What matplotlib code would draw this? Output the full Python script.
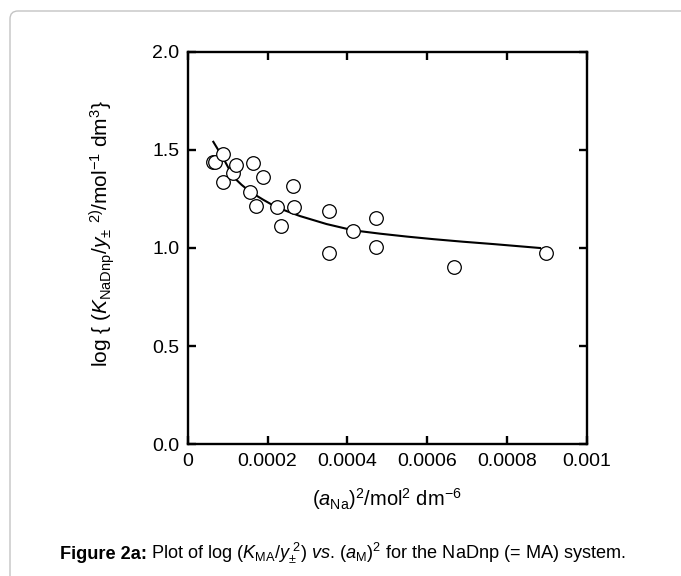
import matplotlib
matplotlib.use("Agg")
import matplotlib.pyplot as plt
from matplotlib.patches import FancyBboxPatch
from matplotlib.transforms import IdentityTransform

plt.rcParams['font.family'] = ['Liberation Sans', 'DejaVu Sans']
plt.rcParams['mathtext.fontset'] = 'custom'
plt.rcParams['mathtext.rm'] = 'Liberation Sans'
plt.rcParams['mathtext.it'] = 'Liberation Sans:italic'
plt.rcParams['mathtext.bf'] = 'Liberation Sans:bold'

# measured points, (a_Na)^2 vs log(K/y^2)
a_sq = [0.0000642, 0.0000684, 0.0000892, 0.0000877, 0.000113, 0.000121,
        0.000163, 0.000156, 0.000188, 0.000171, 0.000223, 0.000234,
        0.000265, 0.000266, 0.000353, 0.000353, 0.000415, 0.000472,
        0.000472, 0.000667, 0.000897]
log_k = [1.438, 1.437, 1.479, 1.338, 1.380, 1.424,
         1.431, 1.287, 1.360, 1.214, 1.209, 1.114,
         1.317, 1.207, 1.190, 0.976, 1.088, 1.151,
         1.007, 0.905, 0.976]

# fitted curve
fit_x = [0.0000642, 0.0000892, 0.000114, 0.000135, 0.000156, 0.000190,
         0.000223, 0.000281, 0.000348, 0.000415, 0.000482, 0.000550,
         0.000616, 0.000690, 0.000766, 0.000883]
fit_y = [1.541, 1.457, 1.363, 1.322, 1.287, 1.245,
         1.207, 1.163, 1.122, 1.090, 1.073, 1.058,
         1.045, 1.032, 1.020, 1.000]

xticks = [0, 0.0002, 0.0004, 0.0006, 0.0008, 0.001]
xtick_labels = ['0', '0.0002', '0.0004', '0.0006', '0.0008', '0.001']
yticks = [0.0, 0.5, 1.0, 1.5, 2.0]
ytick_labels = ['0.0', '0.5', '1.0', '1.5', '2.0']

W, H = 681, 576
fig = plt.figure(figsize=(W / 100, H / 100), dpi=100)

# rounded frame around the figure
frame = FancyBboxPatch((10, -30), 720, H - 11 + 30,
                       boxstyle="round,pad=0,rounding_size=8",
                       transform=IdentityTransform(), fc='none',
                       ec='#c4c4c4', lw=1.0)
fig.add_artist(frame)

ax = fig.add_axes([187.7 / W, 1 - 444.3 / H, 399 / W, 392.6 / H])
ax.plot(fit_x, fit_y, color='black', lw=1.5, zorder=2)
ax.plot(a_sq, log_k, 'o', ms=9.8, mfc='white', mec='black', mew=0.9, zorder=3)

ax.set_xlim(0, 0.001)
ax.set_ylim(0, 2.0)
ax.set_xticks(xticks)
ax.set_xticklabels(xtick_labels)
ax.set_yticks(yticks)
ax.set_yticklabels(ytick_labels)
ax.tick_params(direction='in', length=6, width=1.7, labelsize=14,
               top=True, right=True, pad=6)
for s in ax.spines.values():
    s.set_linewidth(1.7)

fig.text(387 / W, 1 - 506 / H, r'($a_{\mathrm{Na}}$)$^{2}$/mol$^{2}$ dm$^{-6}$',
         ha='center', va='baseline', fontsize=14.5)
fig.text(101.7 / W, 1 - 234 / H,
         r'log { ($K_{\mathrm{NaDnp}}$/$y_{\pm}$ $^{2)}$/mol$^{-1}$ dm$^{3}$}',
         ha='center', va='center', rotation=90, fontsize=15)

# caption: bold lead then normal text
lead = fig.text(60 / W, 1 - 559 / H, 'Figure 2a:', fontweight='bold',
                ha='left', va='baseline', fontsize=13.1)
fig.canvas.draw()
bb = lead.get_window_extent(fig.canvas.get_renderer())
fig.text(bb.x1 / W + 4 / W, 1 - 559 / H,
         r'Plot of log ($K_{\mathrm{MA}}$/$y_{\pm}^{\ 2}$) '
         r'$vs$. ($a_{\mathrm{M}}$)$^{2}$ for the NaDnp (= MA) system.',
         ha='left', va='baseline', fontsize=13.1)

fig.savefig('out.png', dpi=100)
